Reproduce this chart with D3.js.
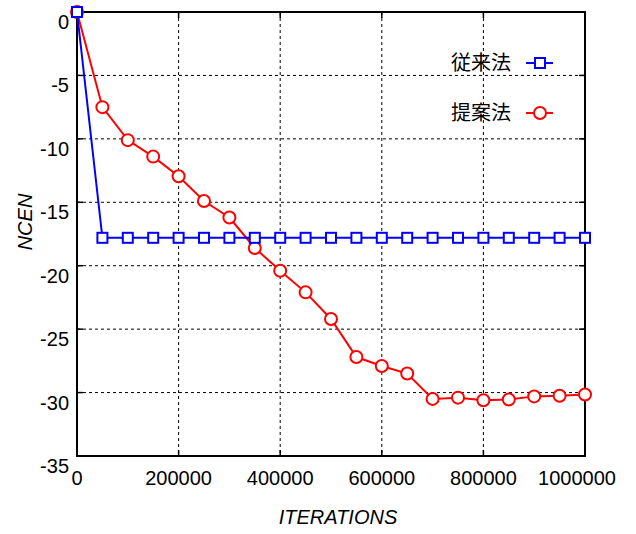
<!DOCTYPE html>
<html lang="ja">
<head>
<meta charset="UTF-8">
<script src="https://d3js.org/d3.v7.min.js"></script>
<style>
  body { margin: 0; padding: 0; background: #fff; }
  svg { display: block; }
  .tick-label { font-family: "Liberation Sans", Arial, sans-serif; font-size: 20px; fill: #000; }
  .axis-title { font-family: "Liberation Sans", Arial, sans-serif; font-size: 20px; font-style: italic; fill: #000; }
  .legend-label { font-family: "Noto Sans CJK JP", sans-serif; font-size: 20px; fill: #000; }
</style>
</head>
<body>
<div id="chart"></div>
<script>
// data
const iterations = [0, 50000, 100000, 150000, 200000, 250000, 300000, 350000, 400000, 450000,
  500000, 550000, 600000, 650000, 700000, 750000, 800000, 850000, 900000, 950000, 1000000];
const conventional = [0, -17.8, -17.8, -17.8, -17.8, -17.8, -17.8, -17.8, -17.8, -17.8,
  -17.8, -17.8, -17.8, -17.8, -17.8, -17.8, -17.8, -17.8, -17.8, -17.8, -17.8];
const proposed = [0, -7.5, -10.1, -11.4, -12.95, -14.9, -16.2, -18.6, -20.4, -22.1,
  -24.2, -27.2, -27.9, -28.5, -30.5, -30.4, -30.6, -30.55, -30.3, -30.25, -30.15];
const seriesNames = ["従来法", "提案法"];
const xTicks = [0, 200000, 400000, 600000, 800000, 1000000];
const yTicks = [0, -5, -10, -15, -20, -25, -30, -35];

const W = 636, H = 534;
const m = { left: 77, top: 12, right: 51, bottom: 78 };

const svg = d3.select("#chart").append("svg")
  .attr("width", W).attr("height", H);

const x = d3.scaleLinear().domain([0, 1000000]).range([m.left, W - m.right]);
const y = d3.scaleLinear().domain([-35, 0]).range([H - m.bottom, m.top]);

// grid
const grid = svg.append("g")
  .attr("stroke", "#000").attr("stroke-width", 1).attr("stroke-dasharray", "3,3");
grid.selectAll(".gx").data(xTicks.slice(1, -1)).enter().append("line")
  .attr("x1", d => x(d)).attr("x2", d => x(d))
  .attr("y1", y(0)).attr("y2", y(-35));
grid.selectAll(".gy").data(yTicks.slice(1, -1)).enter().append("line")
  .attr("x1", x(0)).attr("x2", x(1000000))
  .attr("y1", d => y(d)).attr("y2", d => y(d));

// ticks on all four sides, pointing in
const tk = svg.append("g").attr("stroke", "#000").attr("stroke-width", 1.5);
xTicks.forEach(d => {
  tk.append("line").attr("x1", x(d)).attr("x2", x(d)).attr("y1", y(-35)).attr("y2", y(-35) - 6);
  tk.append("line").attr("x1", x(d)).attr("x2", x(d)).attr("y1", y(0)).attr("y2", y(0) + 6);
});
yTicks.forEach(d => {
  tk.append("line").attr("x1", x(0)).attr("x2", x(0) + 6).attr("y1", y(d)).attr("y2", y(d));
  tk.append("line").attr("x1", x(1000000)).attr("x2", x(1000000) - 6).attr("y1", y(d)).attr("y2", y(d));
});

// frame
svg.append("rect")
  .attr("x", x(0)).attr("y", y(0))
  .attr("width", x(1000000) - x(0)).attr("height", y(-35) - y(0))
  .attr("fill", "none").attr("stroke", "#000").attr("stroke-width", 2);

// tick labels
svg.selectAll(".xl").data(xTicks).enter().append("text")
  .attr("class", "tick-label")
  .attr("x", (d, i) => x(d) - (i === xTicks.length - 1 ? 8 : 0))
  .attr("y", y(-35) + 29)
  .attr("text-anchor", "middle")
  .text(d => d);
svg.selectAll(".yl").data(yTicks).enter().append("text")
  .attr("class", "tick-label")
  .attr("x", x(0) - 8)
  .attr("y", d => y(d) + 17)
  .attr("text-anchor", "end")
  .text(d => d);

// axis titles
svg.append("text").attr("class", "axis-title")
  .attr("x", 338).attr("y", 524)
  .attr("text-anchor", "middle").text("ITERATIONS");
svg.append("text").attr("class", "axis-title")
  .attr("transform", "translate(32,222) rotate(-90)")
  .attr("text-anchor", "middle").text("NCEN");

const line = d3.line().x((d, i) => x(iterations[i])).y(d => y(d));

function drawSeries(vals, color, shape) {
  const g = svg.append("g");
  g.append("path").datum(vals).attr("d", line)
    .attr("fill", "none").attr("stroke", color).attr("stroke-width", 2);
  if (shape === "square") {
    g.selectAll("rect").data(vals).enter().append("rect")
      .attr("x", (d, i) => x(iterations[i]) - 5).attr("y", d => y(d) - 5)
      .attr("width", 10).attr("height", 10)
      .attr("fill", "#fff").attr("stroke", color).attr("stroke-width", 2);
  } else {
    g.selectAll("circle").data(vals).enter().append("circle")
      .attr("cx", (d, i) => x(iterations[i])).attr("cy", d => y(d))
      .attr("r", 6)
      .attr("fill", "#fff").attr("stroke", color).attr("stroke-width", 2);
  }
}
drawSeries(proposed, "#ff0000", "circle");
drawSeries(conventional, "#0000ff", "square");

// legend
const legend = [
  { name: seriesNames[0], color: "#0000ff", shape: "square", cy: 63 },
  { name: seriesNames[1], color: "#ff0000", shape: "circle", cy: 113 }
];
legend.forEach(l => {
  svg.append("text").attr("class", "legend-label")
    .attr("x", 511).attr("y", l.cy + 7)
    .attr("text-anchor", "end").text(l.name);
  svg.append("line").attr("x1", 526).attr("x2", 553).attr("y1", l.cy).attr("y2", l.cy)
    .attr("stroke", l.color).attr("stroke-width", 2);
  if (l.shape === "square") {
    svg.append("rect").attr("x", 535).attr("y", l.cy - 5).attr("width", 10).attr("height", 10)
      .attr("fill", "#fff").attr("stroke", l.color).attr("stroke-width", 2);
  } else {
    svg.append("circle").attr("cx", 540).attr("cy", l.cy).attr("r", 6)
      .attr("fill", "#fff").attr("stroke", l.color).attr("stroke-width", 2);
  }
});
</script>
</body>
</html>
